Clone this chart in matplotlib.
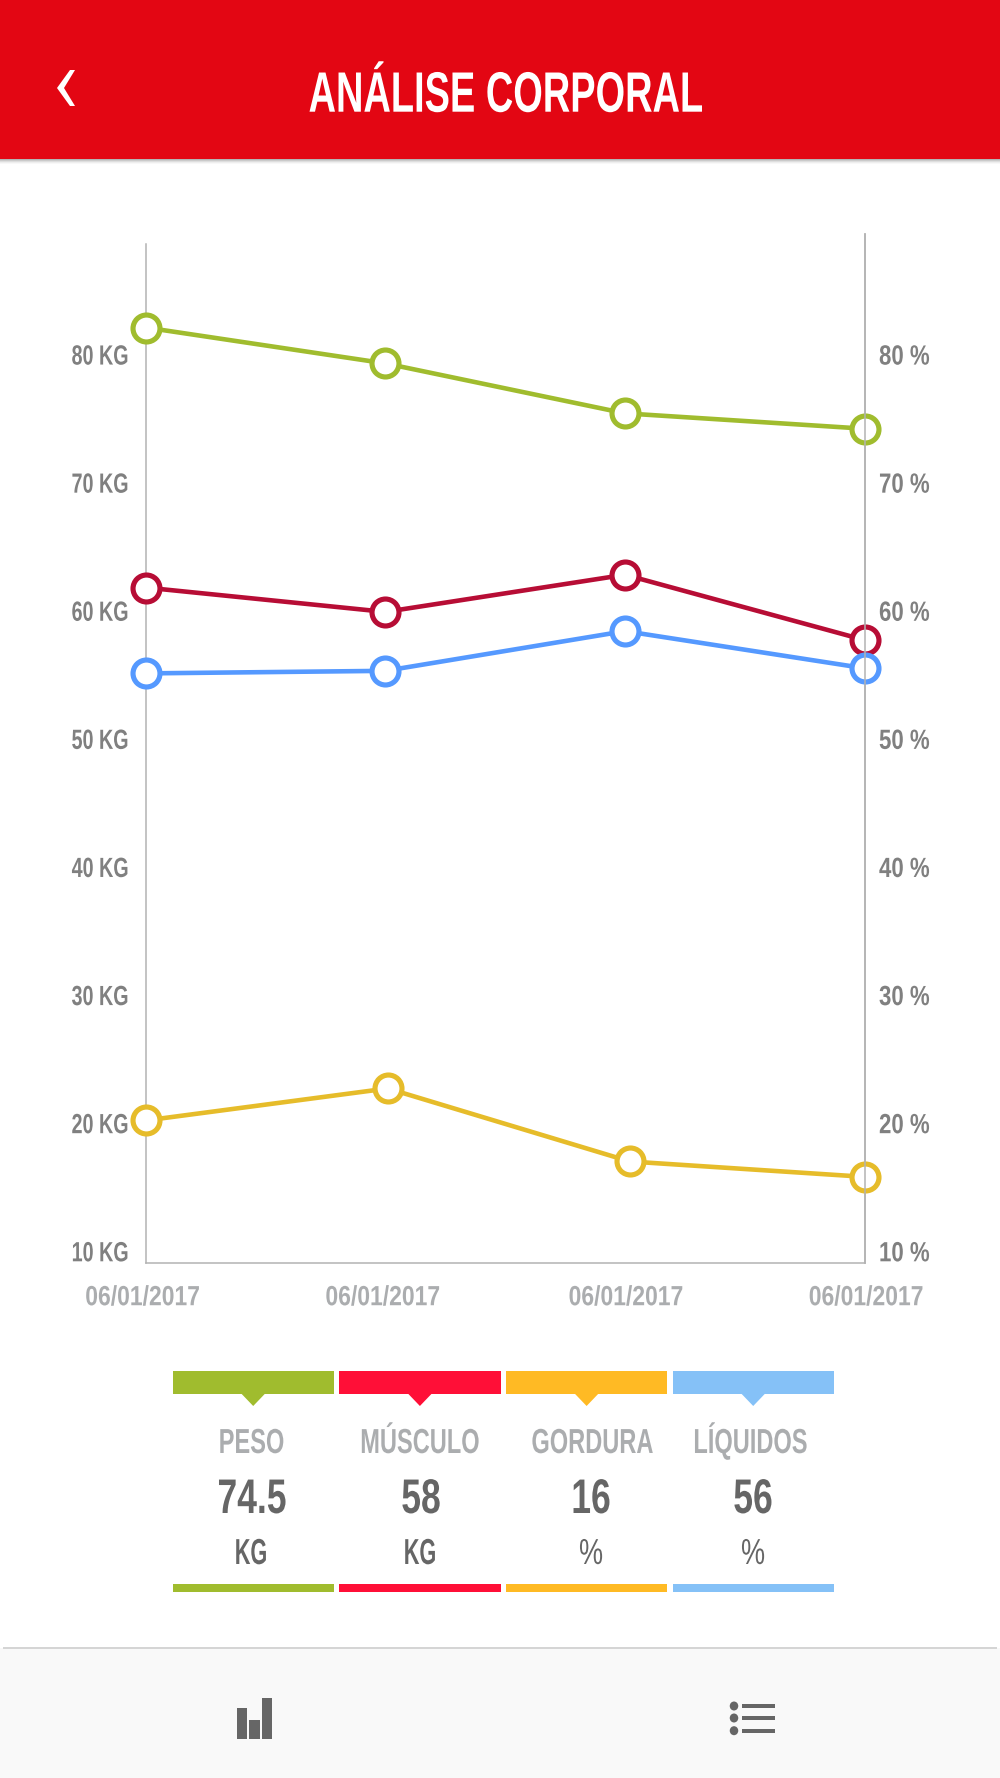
#!/usr/bin/env python3
"""Body analysis screen: four weekly series with a summary strip below."""

import matplotlib
matplotlib.use('Agg')
import matplotlib.pyplot as plt
import matplotlib.patheffects as pe
from matplotlib.patches import Polygon, Rectangle, Ellipse
from matplotlib.transforms import Affine2D, ScaledTranslation

plt.rcParams['font.family'] = ['Liberation Sans', 'DejaVu Sans']

TITLE = 'ANÁLISE CORPORAL'
DATES = ['06/01/2017', '06/01/2017', '06/01/2017', '06/01/2017']
X_POS = [0, 1, 2, 3]
X_POS_GORDURA = [0, 1.01, 2.02, 3]
Y_TICKS = [10, 20, 30, 40, 50, 60, 70, 80]
Y_LEFT_LABELS = ['10 KG', '20 KG', '30 KG', '40 KG', '50 KG', '60 KG', '70 KG', '80 KG']
Y_RIGHT_LABELS = ['10 %', '20 %', '30 %', '40 %', '50 %', '60 %', '70 %', '80 %']

PESO = [82.4, 79.6, 75.7, 74.5]
MUSCULO = [62.1, 60.2, 63.1, 58.0]
LIQUIDOS = [55.4, 55.6, 58.7, 55.8]
GORDURA = [20.5, 23.0, 17.3, 16.1]

LEGEND_NAMES = ['PESO', 'MÚSCULO', 'GORDURA', 'LÍQUIDOS']
LEGEND_VALUES = ['74.5', '58', '16', '56']
LEGEND_UNITS = ['KG', 'KG', '%', '%']

LINE_COLORS = {'peso': '#A0BC2E', 'musculo': '#B70D35', 'liquidos': '#5599FF', 'gordura': '#E6BC2A'}
STRIP_COLORS = ['#A0BC2E', '#FF0F37', '#FFBA24', '#85C1F7']
RED = '#E30613'
GRAY_LIGHT = '#ABADAF'
GRAY_MID = '#808080'
GRAY_DARK = '#666666'
AXIS_GRAY = '#B3B3B3'

W, H = 1000, 1778
AX_L, AX_R, AX_T, AX_B = 145.7, 864.7, 234, 1263


class Squeeze(pe.AbstractPathEffect):
    """Narrow the glyphs around a pixel column, there is no condensed font here."""

    def __init__(self, cx, sx):
        super().__init__()
        self.cx, self.sx = cx, sx

    def draw_path(self, renderer, gc, tpath, affine, rgbFace=None):
        squeeze = Affine2D().translate(-self.cx, 0).scale(self.sx, 1).translate(self.cx, 0)
        renderer.draw_path(gc, tpath, affine + squeeze, rgbFace)


fig = plt.figure(figsize=(W / 100, H / 100), dpi=100, facecolor='white')

bg = fig.add_axes([0, 0, 1, 1], zorder=0)
bg.set_xlim(0, W)
bg.set_ylim(H, 0)
bg.axis('off')


def label(x, y, s, size, color, sx, weight='bold'):
    # x is the centre and y the baseline, both in pixels
    bg.text(x, y, s, fontsize=size, color=color, fontweight=weight, ha='center', va='baseline',
            path_effects=[Squeeze(x, sx)])


# header bar with soft shadow
for i, c in enumerate(['#A0A0A0', '#B4B4B4', '#CACACA', '#DEDEDE', '#EEEEEE', '#F8F8F8']):
    bg.add_patch(Rectangle((0, 158 + i), W, 1, fc=c, ec='none'))
bg.add_patch(Rectangle((0, 0), W, 159, fc=RED, ec='none'))
bg.add_patch(Polygon([(70, 70), (75, 70), (64, 88), (75, 106), (70, 106), (57, 88)], fc='white', ec='none'))
label(506, 111.7, TITLE, 41, 'white', 0.667)

# chart
ax = fig.add_axes([AX_L / W, 1 - AX_B / H, (AX_R - AX_L) / W, (AX_B - AX_T) / H], zorder=1)
ax.patch.set_alpha(0)
ax.set_xlim(0, 3)
ax.set_ylim(9.375, 89.7)

series = [(X_POS, PESO, 'peso'), (X_POS, MUSCULO, 'musculo'),
          (X_POS, LIQUIDOS, 'liquidos'), (X_POS_GORDURA, GORDURA, 'gordura')]
for xs, ys, key in series:
    ax.plot(xs, ys, color=LINE_COLORS[key], lw=3.3, marker='o', ms=19.4, mfc='white',
            mec=LINE_COLORS[key], mew=3.7, clip_on=False, zorder=5)

ax.spines['top'].set_visible(False)
for side in ['left', 'right', 'bottom']:
    ax.spines[side].set_color(AXIS_GRAY)
    ax.spines[side].set_linewidth(1.1)
ax.spines['left'].set_bounds(9.375, 88.9)

ax.set_xticks(X_POS)
ax.set_xticklabels(DATES, fontsize=20, color=GRAY_LIGHT, fontweight='bold')
ax.tick_params(axis='x', length=0, pad=16)
# the date labels do not sit exactly under their points
date_shift = [-3, -2.5, 1, 1.5]
for x, dx, tl in zip(X_POS, date_shift, ax.get_xticklabels()):
    tl.set_transform(tl.get_transform() + ScaledTranslation(dx / 100, 0, fig.dpi_scale_trans))
    tl.set_path_effects([Squeeze(AX_L + x * (AX_R - AX_L) / 3 + dx, 0.825)])

ax.set_yticks(Y_TICKS)
ax.set_yticklabels(Y_LEFT_LABELS, fontsize=20, color=GRAY_MID, fontweight='bold')
ax.tick_params(axis='y', length=0, pad=12.7)

right = ax.twinx()
right.patch.set_alpha(0)
right.set_ylim(ax.get_ylim())
right.set_yticks(Y_TICKS)
right.set_yticklabels(Y_RIGHT_LABELS, fontsize=20, color=GRAY_MID, fontweight='bold')
right.tick_params(axis='y', length=0, pad=10.3)
for side in ['left', 'top', 'bottom']:
    right.spines[side].set_visible(False)
right.spines['right'].set_color(AXIS_GRAY)
right.spines['right'].set_linewidth(1.1)

# labels sit a little above their gridline value
lift = ScaledTranslation(0, 3.7 / 100, fig.dpi_scale_trans)
for tl in ax.get_yticklabels():
    tl.set_transform(tl.get_transform() + lift)
    tl.set_path_effects([Squeeze(130, 0.71)])
for tl in right.get_yticklabels():
    tl.set_transform(tl.get_transform() + lift)
    tl.set_path_effects([Squeeze(879, 0.8)])

# summary strip
strip_left = [172.6, 339.3, 506.0, 672.6]
name_x = [251.6, 420, 592.5, 750.6]
value_x = [252, 421, 591, 753]
for i, name in enumerate(LEGEND_NAMES):
    x0, c = strip_left[i], STRIP_COLORS[i]
    mid = x0 + 80.6
    bg.add_patch(Rectangle((x0, 1371), 161.2, 23, fc=c, ec='none'))
    bg.add_patch(Polygon([(mid - 11.5, 1394), (mid + 11.5, 1394), (mid, 1406)], fc=c, ec='none'))
    bg.add_patch(Rectangle((x0, 1584), 161.2, 8, fc=c, ec='none'))
    label(name_x[i], 1453, name, 25, GRAY_LIGHT, 0.68)
    label(value_x[i], 1513, LEGEND_VALUES[i], 35, GRAY_DARK, 0.73)
    if LEGEND_UNITS[i] == '%':
        label(value_x[i], 1564, '%', 26, GRAY_DARK, 0.75, weight='normal')
    else:
        label(value_x[i] - 1, 1564, LEGEND_UNITS[i], 26, GRAY_DARK, 0.6)

# bottom nav
bg.add_patch(Rectangle((0, 1648), W, 130, fc='#F9F9F9', ec='none'))
bg.add_patch(Rectangle((3, 1647), 994, 2, fc='#D5D5D5', ec='none'))
for x0, top in [(236.6, 1708), (249.4, 1720), (262, 1698)]:
    bg.add_patch(Rectangle((x0, top), 10.2, 1738.7 - top, fc=GRAY_DARK, ec='none'))
for yc in [1706, 1718, 1730.7]:
    bg.add_patch(Ellipse((734, yc), 8.5, 9, fc=GRAY_DARK, ec='none'))
    bg.add_patch(Rectangle((741.7, yc - 2), 33.3, 4, fc=GRAY_DARK, ec='none'))

fig.savefig('out.png', dpi=100)
plt.close()
